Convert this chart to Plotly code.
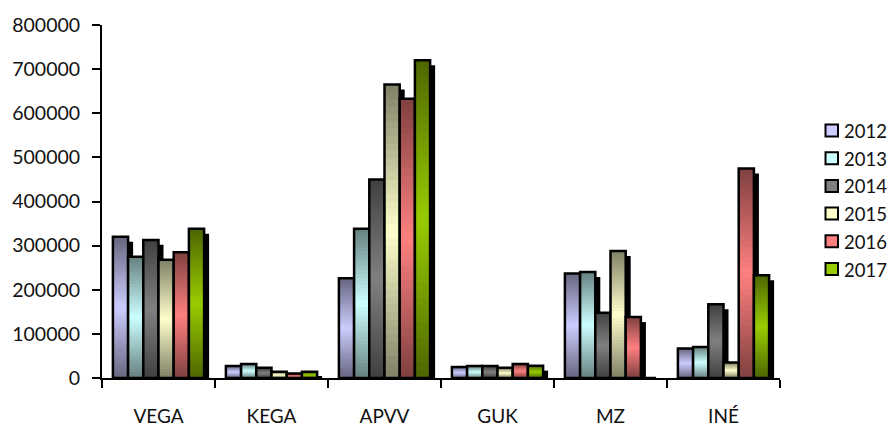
import plotly.graph_objects as go

categories = ["VEGA", "KEGA", "APVV", "GUK", "MZ", "INÉ"]
years = ["2012", "2013", "2014", "2015", "2016", "2017"]
v2012 = [320000, 27000, 226000, 25000, 237000, 67000]
v2013 = [275000, 32000, 338000, 27000, 240000, 70000]
v2014 = [313000, 23000, 450000, 27000, 148000, 167000]
v2015 = [268000, 14000, 665000, 23000, 288000, 35000]
v2016 = [285000, 10000, 633000, 32000, 138000, 475000]
v2017 = [338000, 14000, 720000, 28000, 0, 233000]
values = [v2012, v2013, v2014, v2015, v2016, v2017]
colors = [(204, 204, 255), (204, 255, 255), (128, 128, 128),
          (255, 255, 204), (255, 128, 128), (153, 204, 0)]

BANDS = 40
BAR_W = 0.1345
START = -3 * BAR_W
SHADOW_X = 5 / 113
SHADOW_Y = 11300
W, H = 891, 427
ML, MR, MT, MB = 102, 111, 25, 49
PW, PH = W - ML - MR, H - MT - MB

def px(x):
    return (x - ML) / PW

def py(y):
    return (H - MB - y) / PH

family = "Lato, Carlito, 'Open Sans', sans-serif"
fig = go.Figure()
for i, (year, vals, col) in enumerate(zip(years, values, colors)):
    off = START + i * BAR_W
    # drop shadow
    fig.add_bar(x=categories, y=[max(v - SHADOW_Y, 0) for v in vals],
                width=BAR_W, offset=off + SHADOW_X,
                marker=dict(color="black", line=dict(width=0)),
                showlegend=False, hoverinfo="skip")
    # vertical gradient: overlapping bands, each painted over the last
    for b in range(BANDS):
        f0, f1 = b / BANDS, (b + 1) / BANDS
        mid = (f0 + f1) / 2
        k = 0.5 + 0.5 * (1 - abs(mid - 0.5) / 0.5)
        c = tuple(round(ch * k) for ch in col)
        fig.add_bar(x=categories, y=[v * (1 - f0) for v in vals],
                    base=[v * f0 for v in vals],
                    width=BAR_W, offset=off,
                    marker=dict(color="rgb(%d,%d,%d)" % c, line=dict(width=0)),
                    showlegend=False, hoverinfo="skip")
    # outline
    fig.add_bar(x=categories, y=vals, width=BAR_W, offset=off, name=year,
                marker=dict(color="rgba(0,0,0,0)", line=dict(color="black", width=2.5)),
                showlegend=False, hoverinfo="skip")
    # legend key and label placed to match the reference spacing
    yc = 130.5 + i * 27.7
    fig.add_shape(type="rect", xref="paper", yref="paper",
                  x0=px(825.5), x1=px(838), y0=py(yc - 6), y1=py(yc + 6),
                  fillcolor="rgb(%d,%d,%d)" % col, line=dict(color="black", width=2))
    fig.add_annotation(text=year, xref="paper", yref="paper", x=px(843.5), y=py(yc + 0.5),
                       xanchor="left", yanchor="middle", showarrow=False, xshift=0,
                       borderpad=0, font=dict(family=family, size=18.5, color="#111111"))

fig.update_layout(
    width=W, height=H, autosize=False,
    barmode="overlay", showlegend=False,
    margin=dict(l=ML, r=MR, t=MT, b=MB, autoexpand=False),
    paper_bgcolor="white", plot_bgcolor="white",
    font=dict(family=family, size=19, color="#111111"),
    xaxis=dict(type="category", categoryorder="array", categoryarray=categories,
               tickson="boundaries", ticks="outside", ticklen=8, tickwidth=2,
               tickcolor="black", showline=True, linecolor="black", linewidth=2,
               showgrid=False, zeroline=False, ticklabelstandoff=20,
               tickfont=dict(family=family, size=19, color="#111111")),
    yaxis=dict(range=[0, 800000], dtick=100000, tickformat="d",
               ticks="outside", ticklen=8, tickwidth=2, tickcolor="black",
               showline=True, linecolor="black", linewidth=2,
               showgrid=False, zeroline=False, ticklabelstandoff=8,
               tickfont=dict(family=family, size=19.5, color="#111111")),
)
fig.write_html("out.html", config={"displayModeBar": False},
               post_script="document.body.style.margin='0';window.dispatchEvent(new Event('resize'));")
